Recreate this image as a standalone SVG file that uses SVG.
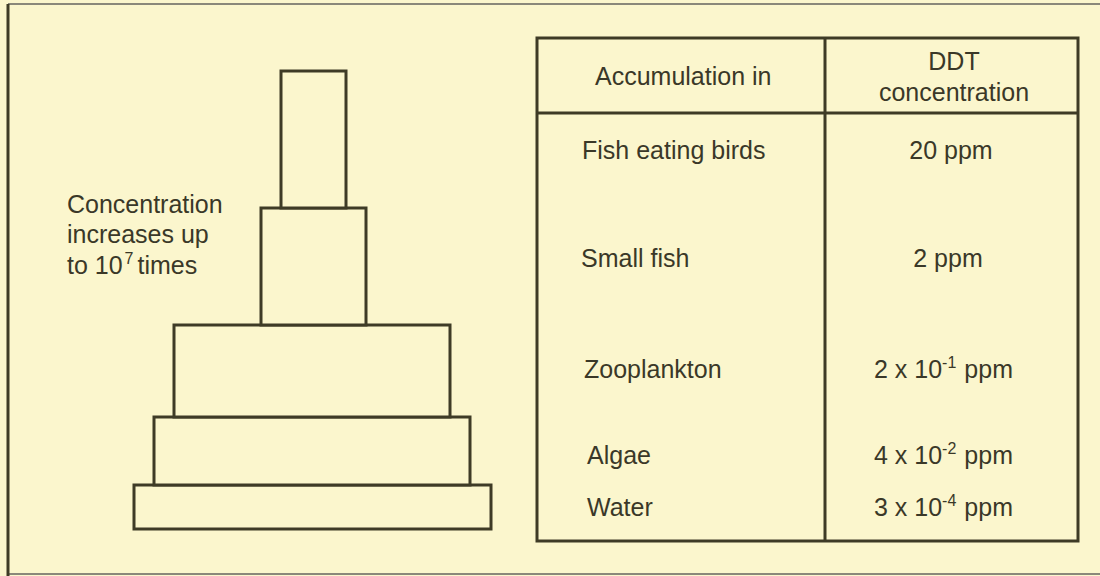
<svg xmlns="http://www.w3.org/2000/svg" width="1100" height="576" viewBox="0 0 1100 576">
<style>
.ln{fill:none;stroke:#3e3b26;stroke-width:3}
.box{fill:#fbf6cd;stroke:#3e3b26;stroke-width:3}
.t{font-family:"Liberation Sans",Arial,sans-serif;font-size:25px;fill:#3a3828}
.sup{font-size:16px}
.m{text-anchor:middle}
</style>
<rect x="0" y="0" width="1100" height="576" fill="#fbf6cd"/>
<g id="frame">
<line x1="8" y1="4" x2="1100" y2="4" stroke="#8a887a" stroke-width="2"/>
<line x1="8" y1="574" x2="1100" y2="574" stroke="#8a887a" stroke-width="2"/>
<line x1="8" y1="4" x2="8" y2="576" stroke="#3e3b26" stroke-width="3"/>
</g>
<g id="pyramid">
<rect id="tier-water" class="box" x="134" y="485" width="357" height="44"/>
<rect id="tier-algae" class="box" x="154" y="417" width="316" height="68"/>
<rect id="tier-zooplankton" class="box" x="174" y="325" width="276" height="92"/>
<rect id="tier-smallfish" class="box" x="261" y="208" width="105" height="117"/>
<rect id="tier-birds" class="box" x="281" y="71" width="65" height="137"/>
</g>
<g id="label-concentration">
<text class="t" x="67" y="213">Concentration</text>
<text class="t" x="67" y="243">increases up</text>
<text class="t" x="67" y="274">to 10<tspan class="sup" dx="2" dy="-10">7</tspan><tspan dx="4" dy="10">times</tspan></text>
</g>
<g id="table">
<rect class="ln" x="537" y="38" width="541" height="503"/>
<line class="ln" x1="537" y1="113" x2="1078" y2="113"/>
<line class="ln" x1="825" y1="38" x2="825" y2="541"/>
</g>
<g id="table-text">
<text class="t" x="595" y="85">Accumulation in</text>
<text class="t m" x="954" y="70">DDT</text>
<text class="t m" x="954" y="101">concentration</text>
<text class="t" x="582" y="159">Fish eating birds</text>
<text class="t m" x="951" y="159">20 ppm</text>
<text class="t" x="581" y="267">Small fish</text>
<text class="t m" x="948" y="267">2 ppm</text>
<text class="t" x="584" y="378">Zooplankton</text>
<text class="t" x="874" y="378">2 x 10<tspan class="sup" dy="-10">-1</tspan><tspan dx="8" dy="10">ppm</tspan></text>
<text class="t" x="587" y="464">Algae</text>
<text class="t" x="874" y="464">4 x 10<tspan class="sup" dy="-10">-2</tspan><tspan dx="8" dy="10">ppm</tspan></text>
<text class="t" x="587" y="516">Water</text>
<text class="t" x="874" y="516">3 x 10<tspan class="sup" dy="-10">-4</tspan><tspan dx="8" dy="10">ppm</tspan></text>
</g>
</svg>
